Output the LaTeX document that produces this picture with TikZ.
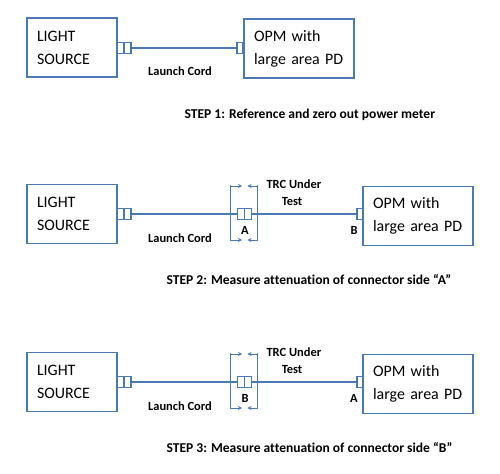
\documentclass[tikz,border=0pt]{standalone}
\usepackage{fontspec}
\setmainfont{Carlito}[Ligatures=NoCommon]
\usetikzlibrary{positioning,arrows.meta}

\definecolor{linkblue}{HTML}{4A7AB5}

\tikzset{
  unit/.style={draw=linkblue, line width=1.2pt, minimum height=59bp, inner xsep=10bp,
    text width=#1, align=left, font=\fontsize{16}{23}\selectfont},
  plug/.style={draw=linkblue, line width=1.2pt, fill=white, minimum width=6bp,
    minimum height=11bp, inner sep=0pt},
  dualplug/.style={plug, minimum width=14bp,
    path picture={\draw[linkblue,line width=1.2pt] (path picture bounding box.north) -- (path picture bounding box.south);}},
  cord/.style={draw=linkblue, line width=2pt},
  bracket/.style={draw=linkblue, line width=0.6pt},
  pointer/.style={bracket, -{Stealth[length=4bp,width=4bp]}},
  tag/.style={font=\bfseries\fontsize{12.5}{14}\selectfont},
  caption/.style={font=\bfseries\fontsize{13.6}{15}\selectfont, anchor=west}
}

\begin{document}
\begin{tikzpicture}[x=1bp,y=-1bp]
        \useasboundingbox (0,0) rectangle (500,474);

        % step 1
        \node[unit=70bp] (ls1) at (72,47.5) {LIGHT\\SOURCE};
        \node[unit=90bp] (opm1) at (299,48.5) {OPM with\\large area PD};
        \node[dualplug] (lsplug1) at (124,48) {};
        \node[plug] (opmplug1) at (240,48) {};
        \draw[cord] (lsplug1) -- (opmplug1);
        \node[tag] (cord1) at (180,71) {Launch Cord};
        \node[caption] (step1) at (181,115) {STEP 1: Reference and zero out power meter};

        % steps 2 and 3
        \foreach \n/\dy/\near/\far in {2/0/A/B,3/168/B/A}{
        \begin{scope}[yshift=-\dy bp]
          \node[unit=70bp] (ls\n) at (72,214) {LIGHT\\SOURCE};
          \node[unit=90bp] (opm\n) at (418,216) {OPM with\\large area PD};
          \node[dualplug] (lsplug\n) at (124,214) {};
          \node[dualplug] (trcplug\n) at (244.5,214) {};
          \node[plug] (opmplug\n) at (360,214) {};
          \draw[cord] (lsplug\n) -- (trcplug\n);
          \draw[cord] (trcplug\n) -- (opmplug\n);

          \coordinate (bl\n) at (230,185);
          \coordinate (br\n) at (257.5,185);
          \draw[bracket] (bl\n) -- ++(0,55);
          \draw[bracket] (br\n) -- ++(0,55);
          \draw[pointer] (bl\n) ++(0,1) -- ++(12,0);
          \draw[pointer] (br\n) ++(0,1) -- ++(-10,0);
          \draw[pointer] (bl\n) ++(0,55) -- ++(12,0);
          \draw[pointer] (br\n) ++(0,55) -- ++(-10,0);

          \node[tag,anchor=west] (trc\n) at (263,184) {TRC Under};
          \node[tag] (test\n) at (292,202) {Test};
          \node[tag] (near\n) at (245,230) {\near};
          \node[tag] (far\n) at (354,230) {\far};
          \node[tag] (cord\n) at (180,238) {Launch Cord};
          \node[caption] (step\n) at (163,280) {STEP \n: Measure attenuation of connector side “\near”};
        \end{scope}}

\end{tikzpicture}
\end{document}
